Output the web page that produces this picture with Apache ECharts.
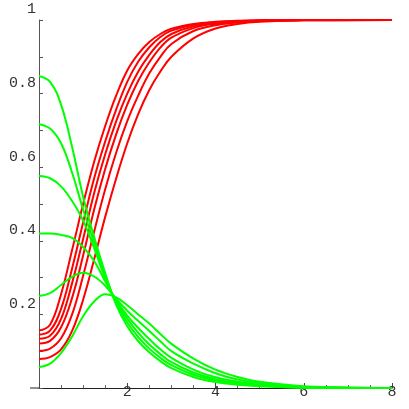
<!DOCTYPE html>
<html>
<head>
<meta charset="utf-8">
<script src="https://cdn.jsdelivr.net/npm/echarts@6/dist/echarts.min.js"></script>
<style>
html,body{margin:0;padding:0;background:#fff;}
#chart{width:409px;height:409px;}
</style>
</head>
<body>
<div id="chart"></div>
<script>
// ---- tick labels ----
var xTickLabels = {0:'', 2:'2', 4:'4', 6:'6', 8:'8'};
var yTickLabels = {'0':'', '0.2':'0.2', '0.4':'0.4', '0.6':'0.6', '0.8':'0.8', '1':'1'};

// ---- red curves (rising) : [x, y] ----
var red1 = [[0,0.156],[0.25,0.172],[0.5,0.255],[0.75,0.375],[1.0,0.5],[1.25,0.615],[1.5,0.712],[1.75,0.795],[2.0,0.863],[2.25,0.908],[2.5,0.94],[2.75,0.962],[3.0,0.976],[3.5,0.989],[4,0.995],[4.5,0.998],[5,0.999],[6,1],[8,1]];
var red2 = [[0,0.145],[0.25,0.156],[0.5,0.215],[0.75,0.325],[1.0,0.45],[1.25,0.57],[1.5,0.67],[1.75,0.757],[2.0,0.832],[2.25,0.887],[2.5,0.926],[2.75,0.954],[3.0,0.971],[3.5,0.987],[4,0.994],[4.5,0.997],[5,0.999],[6,1],[8,1]];
var red3 = [[0,0.134],[0.25,0.142],[0.5,0.188],[0.75,0.285],[1.0,0.405],[1.25,0.53],[1.5,0.635],[1.75,0.725],[2.0,0.8],[2.25,0.86],[2.5,0.905],[2.75,0.94],[3.0,0.962],[3.5,0.983],[4,0.992],[4.5,0.996],[5,0.998],[6,1],[8,1]];
var red4 = [[0,0.121],[0.25,0.128],[0.5,0.165],[0.75,0.245],[1.0,0.36],[1.25,0.485],[1.5,0.595],[1.75,0.69],[2.0,0.77],[2.25,0.835],[2.5,0.885],[2.75,0.925],[3.0,0.952],[3.5,0.978],[4,0.99],[4.5,0.995],[5,0.998],[6,1],[8,1]];
var red5 = [[0,0.101],[0.25,0.107],[0.5,0.135],[0.75,0.2],[1.0,0.305],[1.25,0.425],[1.5,0.54],[1.75,0.64],[2.0,0.725],[2.25,0.795],[2.5,0.855],[2.75,0.9],[3.0,0.935],[3.5,0.97],[4,0.986],[4.5,0.993],[5,0.997],[6,0.999],[8,1]];
var red6 = [[0,0.079],[0.25,0.084],[0.5,0.105],[0.75,0.155],[1.0,0.24],[1.25,0.35],[1.5,0.465],[1.75,0.57],[2.0,0.665],[2.25,0.745],[2.5,0.81],[2.75,0.86],[3.0,0.9],[3.5,0.95],[4,0.977],[4.5,0.989],[5,0.995],[6,0.999],[8,1]];

// ---- green curves (decaying) : [x, y] ----
var green1 = [[0,0.848],[0.25,0.832],[0.5,0.77],[0.75,0.655],[1.0,0.52],[1.25,0.41],[1.5,0.312],[1.75,0.226],[2.0,0.168],[2.25,0.127],[2.5,0.097],[2.75,0.073],[3.0,0.054],[3.5,0.03],[4,0.016],[4.5,0.009],[5,0.005],[6,0.001],[8,0]];
var green2 = [[0,0.717],[0.25,0.705],[0.5,0.665],[0.75,0.585],[1.0,0.485],[1.25,0.395],[1.5,0.305],[1.75,0.23],[2.0,0.178],[2.25,0.138],[2.5,0.107],[2.75,0.082],[3.0,0.062],[3.5,0.036],[4,0.02],[4.5,0.011],[5,0.006],[6,0.001],[8,0]];
var green3 = [[0,0.576],[0.25,0.57],[0.5,0.548],[0.75,0.508],[1.0,0.455],[1.25,0.38],[1.5,0.298],[1.75,0.234],[2.0,0.188],[2.25,0.15],[2.5,0.118],[2.75,0.092],[3.0,0.07],[3.5,0.042],[4,0.024],[4.5,0.014],[5,0.008],[6,0.002],[8,0]];
var green4 = [[0,0.42],[0.25,0.42],[0.5,0.416],[0.75,0.408],[1.0,0.383],[1.25,0.345],[1.5,0.29],[1.75,0.238],[2.0,0.197],[2.25,0.163],[2.5,0.133],[2.75,0.105],[3.0,0.082],[3.5,0.05],[4,0.029],[4.5,0.017],[5,0.009],[6,0.002],[8,0]];
var green5 = [[0,0.25],[0.25,0.258],[0.5,0.28],[0.75,0.302],[1.0,0.313],[1.25,0.303],[1.5,0.278],[1.75,0.242],[2.0,0.21],[2.25,0.182],[2.5,0.155],[2.75,0.127],[3.0,0.1],[3.5,0.066],[4,0.04],[4.5,0.023],[5,0.013],[6,0.003],[8,0]];
var green6 = [[0,0.057],[0.25,0.066],[0.5,0.095],[0.75,0.14],[1.0,0.195],[1.25,0.235],[1.5,0.255],[1.75,0.246],[2.0,0.225],[2.25,0.2],[2.5,0.175],[2.75,0.147],[3.0,0.12],[3.5,0.08],[4,0.05],[4.5,0.03],[5,0.017],[6,0.005],[8,0]];

var redCurves = [red1, red2, red3, red4, red5, red6];
var greenCurves = [green1, green2, green3, green4, green5, green6];

var series = [];
redCurves.forEach(function (d) {
  series.push({type:'line', data:d, smooth:0.4, symbol:'none', silent:true,
    lineStyle:{color:'#ff0000', width:2}});
});
greenCurves.forEach(function (d) {
  series.push({type:'line', data:d, smooth:0.4, symbol:'none', silent:true,
    lineStyle:{color:'#00ff00', width:2}});
});

var chart = echarts.init(document.getElementById('chart'), null, {renderer:'canvas'});
chart.setOption({
  backgroundColor:'#ffffff',
  animation:false,
  grid:{left:39, right:17, top:20, bottom:21, containLabel:false},
  xAxis:{
    type:'value', min:0, max:8, interval:2,
    axisLine:{show:true, onZero:false, lineStyle:{color:'#222', width:1}},
    axisTick:{show:true, inside:true, length:5, lineStyle:{color:'#444'}},
    minorTick:{show:true, splitNumber:4, length:3, lineStyle:{color:'#666'}},
    splitLine:{show:false},
    axisLabel:{margin:-3, fontFamily:'Liberation Mono', fontSize:15, color:'#333', lineHeight:14,
      formatter:function(v){ return xTickLabels[v] !== undefined ? xTickLabels[v] : ''; }}
  },
  yAxis:{
    type:'value', min:0, max:1, interval:0.2,
    axisLine:{show:true, onZero:false, lineStyle:{color:'#555', width:1}},
    axisTick:{show:true, inside:true, length:4, lineStyle:{color:'#555'}},
    minorTick:{show:true, splitNumber:2, length:4, lineStyle:{color:'#555'}},
    splitLine:{show:false},
    axisLabel:{margin:3, fontFamily:'Liberation Mono', fontSize:15, color:'#333',
      verticalAlign:'bottom', padding:[0,0,3,0],
      formatter:function(v){ var k = String(Math.round(v*10)/10); return yTickLabels[k] !== undefined ? yTickLabels[k] : ''; }}
  },
  series: series
});

// small extension of the x axis line to the left of the origin (as in the original)
var o = chart.convertToPixel({gridIndex:0}, [0, 0]);
chart.setOption({
  graphic:[{type:'line', silent:true,
    shape:{x1:o[0]-9, y1:o[1], x2:o[0], y2:o[1]},
    style:{stroke:'#222', lineWidth:1}}]
});
</script>
</body>
</html>
